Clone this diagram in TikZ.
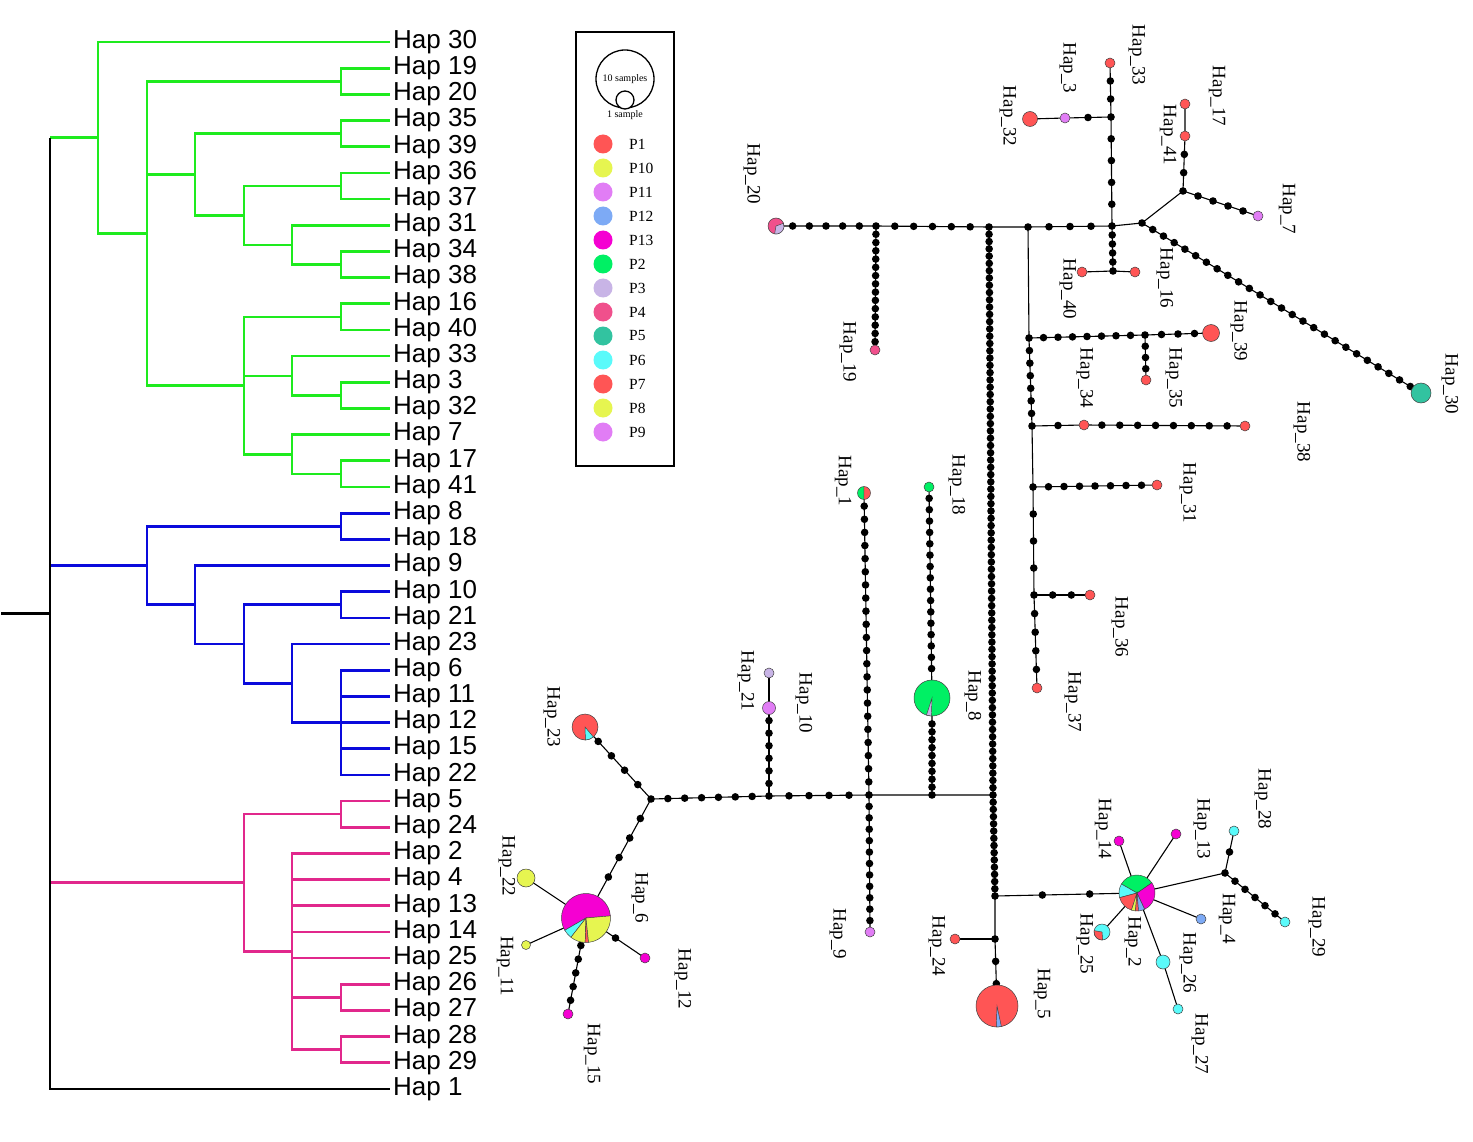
\documentclass[tikz,border=0pt]{standalone}
\usepackage{fontspec}
\setmainfont{Liberation Serif}
\newfontfamily\arialf{Liberation Sans}
\usetikzlibrary{calc}
\definecolor{treegreen}{RGB}{30,235,30}
\definecolor{treeblue}{RGB}{10,10,220}
\definecolor{treepink}{RGB}{225,40,140}
\definecolor{cPa}{RGB}{255,85,85}
\definecolor{cPj}{RGB}{230,245,80}
\definecolor{cPk}{RGB}{225,125,245}
\definecolor{cPl}{RGB}{125,170,245}
\definecolor{cPm}{RGB}{245,0,210}
\definecolor{cPb}{RGB}{0,240,100}
\definecolor{cPc}{RGB}{200,180,230}
\definecolor{cPd}{RGB}{240,80,140}
\definecolor{cPe}{RGB}{50,195,160}
\definecolor{cPf}{RGB}{90,250,250}
\newcommand\mdots[3]{\foreach \k in {1,...,#3}{\fill ($(#1)!{\k/(#3+1)}!(#2)$) circle (3.8);}}
\newcommand\hcirc[3]{\filldraw[fill=#3,draw=black!75,line width=0.5pt] (#1) circle (#2);}
\newcommand\hslice[5]{\filldraw[fill=#5,draw=black!75,line width=0.45pt] (#1) -- ++(#3:#2) arc[start angle=#3,end angle=#4,radius=#2] -- cycle;}
\newcommand\tbr[3]{\foreach \c in {#3}{\draw[#1] (#2) |- (\c);}}
\begin{document}
\begin{tikzpicture}[x=1pt,y=1pt,
  tg/.style={draw=treegreen,line width=2.7pt},
  tb/.style={draw=treeblue,line width=2.7pt},
  tp/.style={draw=treepink,line width=2.7pt},
  tk/.style={draw=black,line width=2.7pt},
  leaf/.style={anchor=west,inner sep=3pt,font=\arialf\fontsize{26}{28}\selectfont},
  edge/.style={draw=black,line width=1.1pt},
  hl/.style={rotate=-90,inner sep=0pt,font=\fontsize{19}{22}\selectfont},
  legtext/.style={anchor=west,inner sep=0pt,font=\fontsize{15.5}{18}\selectfont}]
\useasboundingbox (0,0) rectangle (1473,-1142);
\fill[white] (0,0) rectangle (1473,-1142);
% ---------------- tree ----------------
\foreach \n [count=\i from 0] in {30,19,20,35,39,36,37,31,34,38,16,40,33,3,32,7,17,41,8,18,9,10,21,23,6,11,12,15,22,5,24,2,4,13,14,25,26,27,28,29,1}{
  \coordinate (L\n) at (390,{-42-26.175*\i});
  \node[leaf] (T\n) at (L\n) {Hap \n};
}
\coordinate (P1920) at (341,-81.3);
\coordinate (P3539) at (341,-133.7);
\coordinate (P3637) at (341,-186.1);
\coordinate (P3438) at (341,-264.6);
\coordinate (GE) at (292,-244.9);
\coordinate (GD) at (244,-215.5);
\coordinate (GB) at (195,-174.6);
\coordinate (P1640) at (341,-316.9);
\coordinate (P332) at (341,-395.4);
\coordinate (GF) at (292,-375.9);
\coordinate (P1741) at (341,-474);
\coordinate (GG) at (292,-454.3);
\coordinate (GC) at (244,-385.6);
\coordinate (GA) at (147,-233.5);
\coordinate (G0) at (98,-137.7);
\coordinate (P818) at (341,-526.3);
\coordinate (P1021) at (341,-604.8);
\coordinate (B4) at (341,-722.6);
\coordinate (B3) at (292,-683.3);
\coordinate (B2) at (244,-644);
\coordinate (B1) at (195,-604.8);
\coordinate (B0) at (147,-565.5);
\coordinate (P524) at (341,-814.1);
\coordinate (P2627) at (341,-997.3);
\coordinate (P2829) at (341,-1049.7);
\coordinate (PP1) at (292,-951.5);
\coordinate (PP0) at (244,-882.8);
\coordinate (R) at (50,-613.4);
\coordinate (stub) at (1,-613.4);
% green
\tbr{tg}{G0}{L30,GA}
\tbr{tg}{GA}{P1920,GB,GC}
\tbr{tg}{P1920}{L19,L20}
\tbr{tg}{GB}{P3539,GD}
\tbr{tg}{P3539}{L35,L39}
\tbr{tg}{GD}{P3637,GE}
\tbr{tg}{P3637}{L36,L37}
\tbr{tg}{GE}{L31,P3438}
\tbr{tg}{P3438}{L34,L38}
\tbr{tg}{GC}{P1640,GF,GG}
\tbr{tg}{P1640}{L16,L40}
\tbr{tg}{GF}{L33,P332}
\tbr{tg}{P332}{L3,L32}
\tbr{tg}{GG}{L7,P1741}
\tbr{tg}{P1741}{L17,L41}
% blue
\tbr{tb}{B0}{P818,B1}
\tbr{tb}{P818}{L8,L18}
\tbr{tb}{B1}{L9,B2}
\tbr{tb}{B2}{P1021,B3}
\tbr{tb}{P1021}{L10,L21}
\tbr{tb}{B3}{L23,B4}
\tbr{tb}{B4}{L6,L11,L12,L15,L22}
% pink
\tbr{tp}{PP0}{P524,PP1}
\tbr{tp}{P524}{L5,L24}
\tbr{tp}{PP1}{L2,L4,L13,L14,L25,P2627,P2829}
\tbr{tp}{P2627}{L26,L27}
\tbr{tp}{P2829}{L28,L29}
% root
\draw[tg] (G0 -| R) -- (G0);
\draw[tb] (B0 -| R) -- (B0);
\draw[tp] (PP0 -| R) -- (PP0);
\draw[tk] (G0 -| R) -- (R) |- (L1);
\draw[tk] (stub) -- (R);
% ---------------- legend ----------------
\draw[line width=1.2pt] (576,-32) rectangle (674,-466);
\draw[line width=1.3pt] (625,-79) circle (29);
\draw[line width=1.3pt,fill=white] (625,-100) circle (9);
\node[inner sep=0pt,font=\fontsize{10}{11}\selectfont] (s10) at (625,-79) {10 samples};
\node[inner sep=0pt,font=\fontsize{10}{11}\selectfont] (s1) at (625,-115) {1 sample};
\foreach \lab/\col [count=\i from 0] in {P1/cPa,P10/cPj,P11/cPk,P12/cPl,P13/cPm,P2/cPb,P3/cPc,P4/cPd,P5/cPe,P6/cPf,P7/cPa,P8/cPj,P9/cPk}{
  \fill[\col] (603,{-144-24*\i}) circle (9.5);
  \node[legtext] (leg\lab) at (629,{-144-24*\i}) {\lab};
}
% ---------------- network coordinates ----------------
\coordinate (h20) at (776,-226);
\coordinate (t1) at (876,-226);
\coordinate (t2) at (989,-227);
\coordinate (t3) at (1028,-227);
\coordinate (t4) at (1112,-226);
\coordinate (J1) at (1142,-223);
\coordinate (J2) at (1183,-191);
\coordinate (h19) at (875,-350);
\coordinate (h33) at (1110,-63);
\coordinate (t5) at (1111,-117);
\coordinate (h3) at (1065,-118);
\coordinate (h32) at (1030,-119);
\coordinate (t6) at (1113,-271);
\coordinate (h40) at (1082,-272);
\coordinate (h16) at (1135,-272);
\coordinate (h41) at (1185,-136);
\coordinate (h17) at (1185,-104);
\coordinate (h7) at (1258,-216);
\coordinate (h30) at (1421,-393);
\coordinate (r1) at (1029,-338);
\coordinate (r2) at (1145,-335);
\coordinate (h39) at (1211,-333);
\coordinate (h35) at (1146,-380);
\coordinate (r3) at (1032,-426);
\coordinate (h34) at (1084,-425);
\coordinate (h38) at (1245,-426);
\coordinate (r4) at (1033,-487);
\coordinate (h31) at (1157,-485);
\coordinate (r5) at (1034,-595);
\coordinate (h36) at (1090,-595);
\coordinate (h37) at (1037,-688);
\coordinate (m1) at (993,-795);
\coordinate (m2) at (995,-896);
\coordinate (m3) at (995,-939);
\coordinate (h5) at (997,-1006);
\coordinate (h24) at (955,-939);
\coordinate (h2) at (1137,-893);
\coordinate (h14) at (1119,-841);
\coordinate (h13) at (1176,-834);
\coordinate (J3) at (1225,-873);
\coordinate (h28) at (1234,-831);
\coordinate (h29) at (1285,-922);
\coordinate (h4) at (1201,-919);
\coordinate (h26) at (1163,-962);
\coordinate (h27) at (1178,-1009);
\coordinate (h25) at (1102,-932);
\coordinate (Y) at (651,-799);
\coordinate (h23) at (585,-727);
\coordinate (h6) at (586,-918);
\coordinate (q1) at (769,-796);
\coordinate (q2) at (869,-795);
\coordinate (q3) at (932,-795);
\coordinate (h21) at (769,-708);
\coordinate (h10) at (769,-673);
\coordinate (h1) at (864,-493);
\coordinate (h9) at (870,-932);
\coordinate (h8) at (932,-698);
\coordinate (h18) at (929,-487);
\coordinate (h22) at (526,-878);
\coordinate (h11) at (526,-945);
\coordinate (h12) at (645,-958);
\coordinate (h15) at (568,-1014);
\coordinate (e6) at ($(h6)!24.5pt!(Y)$);
\coordinate (e8b) at ($(h8)!18pt!(q3)$);
\coordinate (e8t) at ($(h8)!18pt!(h18)$);
\coordinate (e15) at ($(h6)!14pt!(h15)$);
% ---------------- edges ----------------
\draw[edge] (h20) -- (t1) -- (t2) -- (t3) -- (t4) -- (J1) -- (J2);
\draw[edge] (t1) -- (h19);
\draw[edge] (h33) -- (t5) -- (t4);
\draw[edge] (t5) -- (h3) -- (h32);
\draw[edge] (t4) -- (t6);
\draw[edge] (h40) -- (t6) -- (h16);
\draw[edge] (J2) -- (h41) -- (h17);
\draw[edge] (J2) -- (h7);
\draw[edge] (J1) -- (h30);
\draw[edge] (t3) -- (r1) -- (r3) -- (r4) -- (r5) -- (h37);
\draw[edge] (r1) -- (r2) -- (h39);
\draw[edge] (r2) -- (h35);
\draw[edge] (r3) -- (h34) -- (h38);
\draw[edge] (r4) -- (h31);
\draw[edge] (r5) -- (h36);
\draw[edge] (t2) -- (m1) -- (m2) -- (m3) -- (h5);
\draw[edge] (m3) -- (h24);
\draw[edge] (m2) -- (h2);
\draw[edge] (h2) -- (h14);
\draw[edge] (h2) -- (h13);
\draw[edge] (h2) -- (J3) -- (h28);
\draw[edge] (J3) -- (h29);
\draw[edge] (h2) -- (h4);
\draw[edge] (h2) -- (h26) -- (h27);
\draw[edge] (h2) -- (h25);
\draw[edge] (Y) -- (h23);
\draw[edge] (Y) -- (h6);
\draw[edge] (Y) -- (q1) -- (q2) -- (q3) -- (m1);
\draw[edge] (q1) -- (h21) -- (h10);
\draw[edge] (q2) -- (h1);
\draw[edge] (q2) -- (h9);
\draw[edge] (q3) -- (h8) -- (h18);
\draw[edge] (h6) -- (h22);
\draw[edge] (h6) -- (h11);
\draw[edge] (h6) -- (h12);
\draw[edge] (h6) -- (h15);
% ---------------- median vectors ----------------
\foreach \j in {t1,t2,t3,t4,J1,J2,t5,t6,r1,r2,r3,r4,r5,m1,m2,m3,J3,Y,q1,q2,q3}{\fill (\j) circle (3.8);}
\mdots{h20}{t1}{5}
\mdots{t1}{t2}{5}
\mdots{t3}{t4}{3}
\mdots{t1}{h19}{14}
\mdots{h33}{t5}{2}
\mdots{t5}{t4}{4}
\mdots{t5}{h3}{1}
\mdots{t4}{t6}{4}
\mdots{J2}{h41}{2}
\mdots{J2}{h7}{4}
\mdots{J1}{h30}{25}
\mdots{r1}{r2}{7}
\mdots{r2}{h39}{3}
\mdots{r2}{h35}{3}
\mdots{r1}{r3}{6}
\mdots{r3}{h34}{1}
\mdots{h34}{h38}{8}
\mdots{r4}{h31}{7}
\mdots{r4}{r5}{3}
\mdots{r5}{h36}{2}
\mdots{r5}{h37}{4}
\mdots{t2}{m1}{77}
\mdots{m1}{m2}{13}
\mdots{m3}{h5}{2}
\mdots{m2}{h2}{2}
\mdots{J3}{h28}{1}
\mdots{J3}{h29}{5}
\mdots{Y}{h23}{4}
\mdots{Y}{e6}{4}
\mdots{Y}{q1}{6}
\mdots{q1}{q2}{4}
\mdots{q1}{h21}{6}
\mdots{q2}{h1}{22}
\mdots{q2}{h9}{11}
\mdots{q3}{e8b}{9}
\mdots{h18}{e8t}{16}
\mdots{h6}{h12}{1}
\mdots{e15}{h15}{5}
% ---------------- haplotypes ----------------
\hcirc{h20}{8}{cPd}\hslice{h20}{8}{-100}{20}{cPc}
\hcirc{h19}{5}{cPd}
\hcirc{h33}{5}{cPa}
\hcirc{h3}{5}{cPk}
\hcirc{h32}{7.5}{cPa}
\hcirc{h40}{5}{cPa}
\hcirc{h16}{5}{cPa}
\hcirc{h41}{5}{cPa}
\hcirc{h17}{5}{cPa}
\hcirc{h7}{5}{cPk}
\hcirc{h30}{10}{cPe}
\hcirc{h39}{8.5}{cPa}
\hcirc{h35}{5}{cPa}
\hcirc{h34}{5}{cPa}
\hcirc{h38}{5}{cPa}
\hcirc{h31}{5}{cPa}
\hcirc{h36}{5}{cPa}
\hcirc{h37}{5}{cPa}
\hcirc{h24}{5}{cPa}
\hcirc{h14}{5}{cPm}
\hcirc{h13}{5}{cPm}
\hcirc{h28}{5}{cPf}
\hcirc{h29}{5}{cPf}
\hcirc{h4}{5}{cPl}
\hcirc{h26}{7}{cPf}
\hcirc{h27}{5}{cPf}
\hcirc{h25}{8}{cPf}\hslice{h25}{8}{170}{275}{cPa}
\hcirc{h21}{6.5}{cPk}
\hcirc{h10}{5}{cPc}
\hslice{h1}{6.5}{90}{270}{cPb}\hslice{h1}{6.5}{-90}{90}{cPa}
\hcirc{h9}{5}{cPk}
\hcirc{h18}{5}{cPb}
\hcirc{h8}{18}{cPb}\hslice{h8}{18}{-108}{-92}{cPc}
\hcirc{h5}{21}{cPa}\hslice{h5}{21}{-92}{-78}{cPl}
\hcirc{h23}{13}{cPa}\hslice{h23}{13}{-88}{-50}{cPf}
\hcirc{h22}{9}{cPj}
\hcirc{h11}{4.5}{cPj}
\hcirc{h12}{5}{cPm}
\hcirc{h15}{5}{cPm}
% Hap_6
\hslice{h6}{24.5}{5}{210}{cPm}
\hslice{h6}{24.5}{210}{232}{cPf}
\hslice{h6}{24.5}{232}{268}{cPj}
\hslice{h6}{24.5}{268}{276}{cPa}
\hslice{h6}{24.5}{276}{365}{cPj}
% Hap_2
\hslice{h2}{18}{-65}{35}{cPm}
\hslice{h2}{18}{35}{150}{cPb}
\hslice{h2}{18}{150}{195}{cPf}
\hslice{h2}{18}{195}{252}{cPa}
\hslice{h2}{18}{252}{265}{cPj}
\hslice{h2}{18}{265}{275}{cPa}
\hslice{h2}{18}{275}{295}{cPl}
% ---------------- labels ----------------
\node[hl] (n33) at (1137,-55) {Hap\_33};
\node[hl] (n3) at (1068,-68) {Hap\_3};
\node[hl] (n32) at (1008,-116) {Hap\_32};
\node[hl] (n20) at (752,-174) {Hap\_20};
\node[hl] (n19) at (848,-352) {Hap\_19};
\node[hl] (n40) at (1068,-289) {Hap\_40};
\node[hl] (n34) at (1085,-378) {Hap\_34};
\node[hl] (n17) at (1217,-96) {Hap\_17};
\node[hl] (n41) at (1168,-135) {Hap\_41};
\node[hl] (n7) at (1287,-209) {Hap\_7};
\node[hl] (n16) at (1165,-278) {Hap\_16};
\node[hl] (n39) at (1239,-331) {Hap\_39};
\node[hl] (n35) at (1174,-378) {Hap\_35};
\node[hl] (n30) at (1450,-384) {Hap\_30};
\node[hl] (n38) at (1302,-432) {Hap\_38};
\node[hl] (n31) at (1188,-493) {Hap\_31};
\node[hl] (n36) at (1120,-627) {Hap\_36};
\node[hl] (n37) at (1073,-702) {Hap\_37};
\node[hl] (n1) at (843,-481) {Hap\_1};
\node[hl] (n18) at (957,-485) {Hap\_18};
\node[hl] (n8) at (973,-696) {Hap\_8};
\node[hl] (n21) at (746,-681) {Hap\_21};
\node[hl] (n10) at (804,-703) {Hap\_10};
\node[hl] (n9) at (838,-934) {Hap\_9};
\node[hl] (n24) at (937,-946) {Hap\_24};
\node[hl] (n23) at (552,-717) {Hap\_23};
\node[hl] (n22) at (507,-866) {Hap\_22};
\node[hl] (n6) at (640,-898) {Hap\_6};
\node[hl] (n11) at (505,-966) {Hap\_11};
\node[hl] (n12) at (683,-979) {Hap\_12};
\node[hl] (n15) at (592,-1054) {Hap\_15};
\node[hl] (n14) at (1103,-829) {Hap\_14};
\node[hl] (n13) at (1202,-829) {Hap\_13};
\node[hl] (n28) at (1263,-799) {Hap\_28};
\node[hl] (n4) at (1227,-919) {Hap\_4};
\node[hl] (n29) at (1317,-927) {Hap\_29};
\node[hl] (n25) at (1085,-944) {Hap\_25};
\node[hl] (n2) at (1133,-942) {Hap\_2};
\node[hl] (n26) at (1188,-963) {Hap\_26};
\node[hl] (n27) at (1200,-1044) {Hap\_27};
\node[hl] (n5) at (1042,-994) {Hap\_5};
\end{tikzpicture}
\end{document}
